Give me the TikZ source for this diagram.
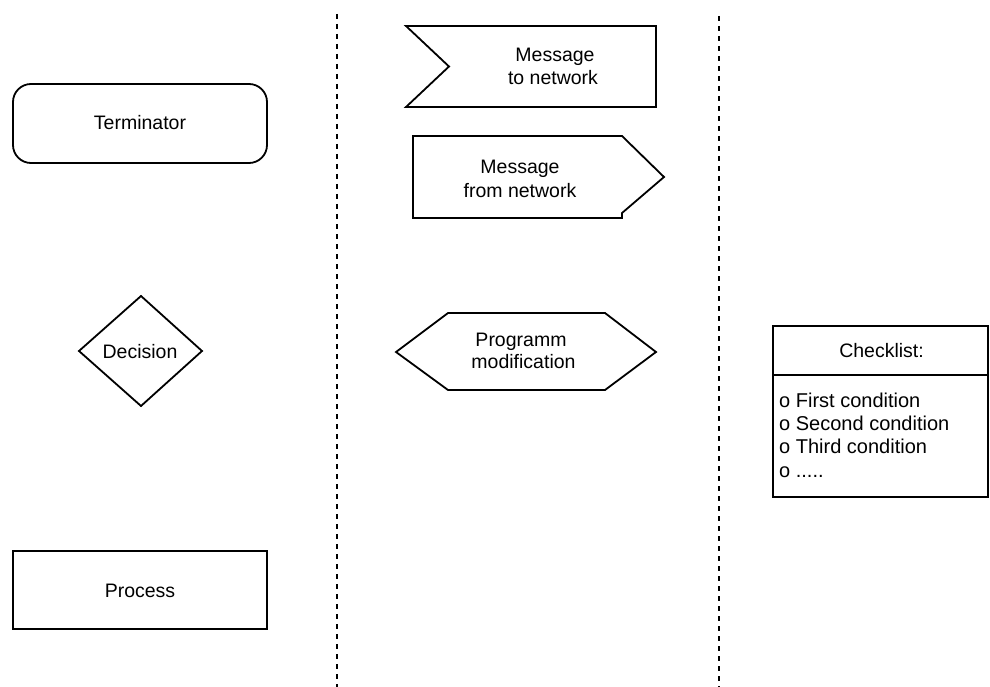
\documentclass[tikz,border=0pt]{standalone}
\usepackage{fontspec}
\setmainfont{Liberation Sans}
\begin{document}
\begin{tikzpicture}[x=1pt,y=-1pt,
  outline/.style={line width=1.8pt, line join=miter},
  lbl/.style={inner sep=0pt, anchor=base, font=\fontsize{19.5}{23}\selectfont},
  item/.style={inner sep=0pt, anchor=base west, font=\fontsize{20}{23}\selectfont},
  divider/.style={line width=2pt, dash pattern=on 5pt off 5pt}]
\useasboundingbox (0,0) rectangle (990,687);

% column dividers
\coordinate (d1top) at (336.5,14);
\coordinate (d1bot) at (336.5,687);
\coordinate (d2top) at (719,16);
\coordinate (d2bot) at (719,687);
\draw[divider] (d1top) -- (d1bot);
\draw[divider] (d2top) -- (d2bot);

% left column: terminator, decision, process
\draw[outline, rounded corners=18pt] (13,84) rectangle (267,163);
\node[lbl] (term) at (140,130) {Terminator};

\draw[outline] (141,296) -- (202,351) -- (141,406) -- (79,351) -- cycle;
\node[lbl] (dec) at (140,358) {Decision};

\draw[outline] (13,551) rectangle (267,629);
\node[lbl] (proc) at (140,597) {Process};

% middle column: messages and program modification
\draw[outline] (406,26) -- (656,26) -- (656,107) -- (406,107) -- (449,66.5) -- cycle;
\node[lbl] (tonetA) at (555,62) {Message};
\node[lbl] (tonetB) at (553,85) {to network};

\draw[outline] (413,136) -- (622,136) -- (664,177) -- (622,213) -- (622,218) -- (413,218) -- cycle;
\node[lbl] (fromnetA) at (520,174) {Message};
\node[lbl] (fromnetB) at (520,197) {from network};

\draw[outline] (396,352) -- (448,313) -- (605,313) -- (656,352) -- (605,390) -- (448,390) -- cycle;
\node[lbl] (progA) at (521,346) {Programm};
\node[lbl] (progB) at (523.5,368) {modification};

% right column: checklist
\draw[outline] (773,326) rectangle (988,497);
\draw[outline] (773,375) -- (988,375);
\node[lbl] (chk) at (881.5,357) {Checklist:};
\node[item] (c1) at (779,407) {o First condition};
\node[item] (c2) at (779,430) {o Second condition};
\node[item] (c3) at (779,453) {o Third condition};
\node[item] (c4) at (779,477) {o .....};
\end{tikzpicture}
\end{document}
